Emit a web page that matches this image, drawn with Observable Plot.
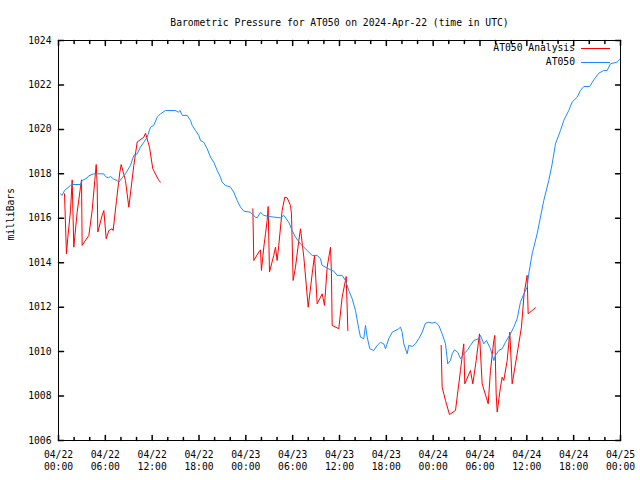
<!DOCTYPE html>
<html>
<head>
<meta charset="utf-8">
<script src="https://cdn.jsdelivr.net/npm/d3@7"></script>
<script src="https://cdn.jsdelivr.net/npm/@observablehq/plot@0.6"></script>
<style>
  html, body { margin: 0; padding: 0; background: #fff; }
  #chart { width: 640px; height: 480px; }
  svg text { font-family: "DejaVu Sans Mono", "Liberation Mono", monospace; }
</style>
</head>
<body>
<div id="chart"></div>
<script>
// ---- Data (hours since 2024-04-22 00:00 UTC, pressure in milliBars) ----
const titleText = "Barometric Pressure for AT050 on 2024-Apr-22 (time in UTC)";
const yLabel = "milliBars";
const seriesNames = ["AT050 Analysis", "AT050"];
const seriesColors = ["#ff0000", "#1a8cff"];

const stationHours = [0.26,0.47,0.77,1.54,1.75,2.82,3.04,3.68,3.88,4.52,5.80,6.02,6.37,6.66,7.08,7.52,7.72,8.16,8.58,9.22,9.65,10.08,10.50,10.93,11.36,11.79,12.21,12.64,13.07,13.71,14.99,15.37,15.56,15.85,16.49,16.91,17.13,17.55,17.97,18.19,18.61,19.05,19.47,19.90,20.33,20.75,20.97,21.39,22.03,22.46,22.89,23.32,23.74,24.60,25.24,25.46,25.88,26.30,26.94,28.44,28.86,29.50,29.94,30.36,31.00,31.86,32.50,33.14,33.56,33.77,34.85,35.27,35.70,36.34,36.77,37.19,37.62,38.05,38.47,38.69,39.11,39.33,39.55,39.88,40.39,40.83,41.25,41.67,41.89,42.31,42.75,43.59,43.81,44.03,44.24,44.67,44.88,45.31,45.73,46.16,46.59,47.01,47.44,47.87,48.30,48.72,49.15,49.58,49.87,50.22,50.44,50.73,51.15,51.50,51.92,52.36,52.78,53.21,53.85,54.06,54.48,54.83,55.34,55.77,55.98,56.41,56.84,57.26,57.90,58.33,58.76,59.18,59.61,60.04,60.25,60.68,61.32,62.17,62.81,63.25,63.67,64.31,64.73,65.37,65.81,66.45,66.87,67.30,68.06,68.58,69.22,69.86,70.29,70.71,71.57,72.00];
const stationPressure = [1017.10,1017.03,1017.25,1017.48,1017.52,1017.52,1017.70,1017.82,1017.91,1018.00,1018.00,1017.88,1017.82,1017.88,1017.76,1017.70,1017.62,1017.82,1018.00,1018.38,1018.83,1018.90,1019.20,1019.42,1019.65,1020.10,1020.18,1020.55,1020.70,1020.85,1020.85,1020.77,1020.85,1020.63,1020.63,1020.40,1020.18,1019.95,1019.73,1019.50,1019.42,1019.13,1018.75,1018.52,1018.15,1017.85,1017.62,1017.48,1017.40,1017.17,1016.80,1016.50,1016.32,1016.27,1016.05,1016.02,1016.27,1016.13,1016.08,1016.02,1016.13,1015.82,1015.45,1015.15,1014.85,1014.55,1014.33,1014.33,1014.18,1013.88,1013.68,1013.62,1013.43,1013.43,1013.20,1012.75,1012.38,1011.85,1011.03,1010.65,1010.58,1011.18,1010.65,1010.13,1010.05,1010.28,1010.42,1010.35,1010.13,1010.58,1010.87,1011.03,1011.10,1010.87,1010.35,1009.90,1010.28,1010.23,1010.35,1010.58,1010.87,1011.28,1011.32,1011.28,1011.32,1011.18,1010.80,1010.35,1009.45,1009.60,1009.90,1010.08,1009.97,1009.68,1009.90,1010.05,1010.28,1010.50,1010.58,1010.73,1010.35,1010.50,1010.13,1009.60,1009.83,1010.05,1010.13,1010.42,1010.80,1011.10,1011.48,1012.22,1012.60,1012.90,1013.50,1014.40,1015.30,1016.80,1017.70,1018.45,1019.35,1019.95,1020.40,1020.85,1021.23,1021.45,1021.75,1021.93,1021.93,1022.23,1022.53,1022.65,1022.65,1022.95,1023.03,1023.18];

// null entries mark gaps in the analysis series
const analysisHours = [0.77,1.02,1.20,1.54,1.75,1.96,2.39,2.82,2.95,3.03,3.89,4.31,4.65,4.83,4.95,5.04,5.59,5.81,6.11,6.45,6.87,7.00,7.43,7.86,8.03,8.58,9.01,9.65,10.08,10.93,11.15,11.66,12.08,12.85,13.07,
  18.00,
  24.90,25.02,25.66,25.88,26.00,26.30,26.52,26.73,26.86,27.03,27.58,27.80,28.01,28.22,28.65,28.99,29.30,29.72,29.85,30.06,30.36,30.79,31.00,31.43,31.99,32.50,32.80,33.14,33.78,34.08,34.42,34.85,34.97,35.06,35.91,36.34,36.86,37.07,
  43.00,
  49.02,49.15,49.58,50.09,50.86,51.07,51.50,51.92,52.05,52.78,53.08,53.51,53.93,54.28,55.05,55.34,55.77,55.90,56.07,56.20,56.62,56.84,57.05,57.48,57.82,58.12,58.76,59.31,59.65,60.04,60.17,60.68,61.10];
const analysisPressure = [1017.10,1014.40,1015.15,1016.35,1017.73,1014.70,1016.27,1017.40,1017.73,1014.78,1015.23,1016.35,1017.70,1018.42,1017.55,1015.38,1016.13,1016.35,1015.08,1015.45,1015.53,1015.45,1016.80,1018.08,1018.42,1017.70,1016.50,1018.38,1019.43,1019.65,1019.83,1019.20,1018.23,1017.70,1017.63,
  null,
  1016.43,1014.10,1014.48,1014.58,1013.65,1014.70,1015.30,1015.90,1016.53,1013.58,1014.33,1014.70,1014.10,1014.78,1016.35,1016.95,1016.92,1016.58,1016.20,1013.20,1013.80,1015.00,1015.53,1014.25,1012.00,1013.50,1014.33,1012.15,1012.60,1012.08,1013.80,1014.70,1013.50,1011.18,1011.03,1012.45,1013.38,1010.95,
  null,
  1010.28,1008.40,1007.80,1007.17,1007.35,1007.95,1009.15,1010.35,1008.55,1009.15,1008.55,1009.60,1010.80,1008.55,1007.65,1009.15,1010.50,1010.73,1008.10,1007.28,1008.40,1008.85,1008.70,1009.60,1010.87,1008.55,1009.90,1011.10,1012.60,1013.43,1011.70,1011.85,1011.97];

const yTicks = [1006,1008,1010,1012,1014,1016,1018,1020,1022,1024];
const majorTickHours = [0,6,12,18,24,30,36,42,48,54,60,66,72];
const minorTickHours = [2,4,8,10,14,16,20,22,26,28,32,34,38,40,44,46,50,52,56,58,62,64,68,70];

// ---- Build tables ----
const t0 = Date.UTC(2024, 3, 22);
const toDate = h => new Date(t0 + h * 3600e3);
const station = stationHours.map((h, i) => ({time: toDate(h), p: stationPressure[i]}));
const analysis = analysisHours.map((h, i) => ({time: toDate(h), p: analysisPressure[i]}));
const majorTicks = majorTickHours.map(toDate);
const minorTicks = minorTickHours.map(toDate);
const fmt = d3.utcFormat("%m/%d\n%H:%M");

const tickShape = {draw(context, l) { context.moveTo(0, 0); context.lineTo(0, -l); }};
const fontSize = 9.7;

const chart = Plot.plot({
  width: 640,
  height: 480,
  marginLeft: 58,
  marginRight: 20,
  marginTop: 40,
  marginBottom: 40,
  style: {fontFamily: "DejaVu Sans Mono, monospace", fontSize: fontSize + "px", background: "#fff"},
  x: {type: "utc", domain: [toDate(0), toDate(72)], axis: null},
  y: {domain: [1006, 1024], axis: null},
  marks: [
    // lines
    Plot.line(analysis, {x: "time", y: "p", stroke: seriesColors[0], strokeWidth: 1}),
    Plot.line(station, {x: "time", y: "p", stroke: seriesColors[1], strokeWidth: 1}),
    // frame
    Plot.frame({stroke: "#000", strokeWidth: 1}),
    // inward ticks
    Plot.vector(majorTicks, {x: d => d, frameAnchor: "bottom", length: 5, rotate: 0, anchor: "start", shape: tickShape, stroke: "#000"}),
    Plot.vector(majorTicks, {x: d => d, frameAnchor: "top", length: 5, rotate: 180, anchor: "start", shape: tickShape, stroke: "#000"}),
    Plot.vector(minorTicks, {x: d => d, frameAnchor: "bottom", length: 3, rotate: 0, anchor: "start", shape: tickShape, stroke: "#000"}),
    Plot.vector(minorTicks, {x: d => d, frameAnchor: "top", length: 3, rotate: 180, anchor: "start", shape: tickShape, stroke: "#000"}),
    Plot.vector(yTicks, {y: d => d, frameAnchor: "left", length: 5, rotate: 90, anchor: "start", shape: tickShape, stroke: "#000"}),
    Plot.vector(yTicks, {y: d => d, frameAnchor: "right", length: 5, rotate: -90, anchor: "start", shape: tickShape, stroke: "#000"}),
    // tick labels
    Plot.text(yTicks, {y: d => d, text: d => String(d), frameAnchor: "left", textAnchor: "end", dx: -7, fill: "#000"}),
    Plot.text(majorTicks, {x: d => d, text: d => fmt(d), frameAnchor: "bottom", lineAnchor: "top", lineHeight: 1.25, dy: 9, fill: "#000"}),
    // axis label
    Plot.text([yLabel], {text: d => d, frameAnchor: "left", rotate: -90, dx: -48, fill: "#000"}),
    // title
    Plot.text([titleText], {text: d => d, frameAnchor: "top", dy: -21, fill: "#000"})
  ]
});

document.getElementById("chart").appendChild(chart);

// ---- Legend (top-right, inside the frame) ----
const svg = d3.select(chart);
const legend = svg.append("g").attr("font-family", "DejaVu Sans Mono, monospace").attr("font-size", fontSize);
seriesNames.forEach((name, i) => {
  const yy = 48 + i * 14;
  legend.append("text").attr("x", 575).attr("y", yy).attr("dy", "0.35em").attr("text-anchor", "end").attr("fill", "#000").text(name);
  legend.append("line").attr("x1", 581).attr("x2", 610).attr("y1", yy + 0.5).attr("y2", yy + 0.5).attr("stroke", seriesColors[i]).attr("stroke-width", 1);
});
</script>
</body>
</html>
